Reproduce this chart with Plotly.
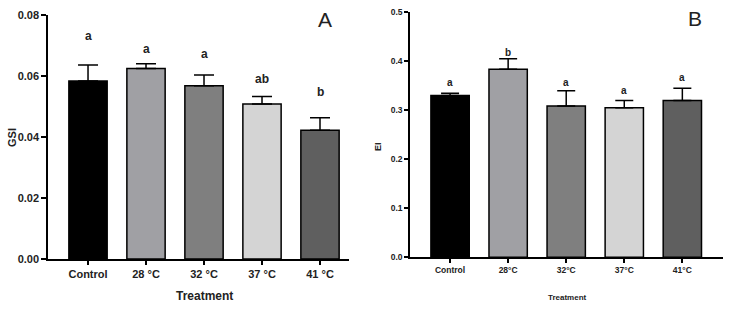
import plotly.graph_objects as go

# ---- data ----
cats_a = ["Control", "28 °C", "32 °C", "37 °C", "41 °C"]
cats_b = ["Control", "28°C", "32°C", "37°C", "41°C"]
colors = ["#000000", "#a0a0a4", "#7f7f7f", "#d4d4d4", "#5f5f5f"]

gsi_mean = [0.0584, 0.0625, 0.0568, 0.0508, 0.0422]
gsi_err = [0.0052, 0.0015, 0.0035, 0.0025, 0.0041]
gsi_letters = ["a", "a", "a", "ab", "b"]
gsi_letter_y = [0.0731, 0.0690, 0.0672, 0.0589, 0.0548]
gsi_ticks = [0, 0.02, 0.04, 0.06, 0.08]

ei_mean = [0.330, 0.384, 0.309, 0.305, 0.320]
ei_err = [0.005, 0.021, 0.031, 0.015, 0.025]
ei_letters = ["a", "b", "a", "a", "a"]
ei_letter_y = [0.356, 0.418, 0.356, 0.341, 0.366]
ei_ticks = [0, 0.1, 0.2, 0.3, 0.4, 0.5]

W, H = 730, 310
FONT = "Liberation Sans, Arial, sans-serif"

def px(x):
    return x / W

def py(y):
    return 1 - y / H

fig = go.Figure()

fig.add_trace(go.Bar(
    x=list(range(len(cats_a))), y=gsi_mean, width=0.66,
    marker=dict(color=colors, line=dict(color="#000000", width=1.5)),
    error_y=dict(type="data", symmetric=False, array=gsi_err, arrayminus=[0] * 5,
                 color="#000000", thickness=1.5, width=10),
    xaxis="x", yaxis="y", showlegend=False, hoverinfo="skip"))

fig.add_trace(go.Bar(
    x=list(range(len(cats_b))), y=ei_mean, width=0.66,
    marker=dict(color=colors, line=dict(color="#000000", width=1.5)),
    error_y=dict(type="data", symmetric=False, array=ei_err, arrayminus=[0] * 5,
                 color="#000000", thickness=1.5, width=9),
    xaxis="x2", yaxis="y2", showlegend=False, hoverinfo="skip"))

axis_common = dict(showline=True, linecolor="#000000", linewidth=1.5, ticks="outside",
                   tickcolor="#000000", tickwidth=1.5, showgrid=False, zeroline=False,
                   automargin=False, tickmode="array")

fig.update_layout(
    width=W, height=H, margin=dict(l=0, r=0, t=0, b=0, autoexpand=False),
    paper_bgcolor="white", plot_bgcolor="white",
    xaxis=dict(domain=[px(48), px(349)], range=[-0.69, 4.5],
               tickvals=list(range(5)), ticktext=[f"<b>{c}</b>" for c in cats_a], ticklen=4,
               tickfont=dict(family=FONT, size=11, color="#222"), anchor="y", **axis_common),
    yaxis=dict(domain=[py(259), py(15)], range=[0, 0.08], tickvals=gsi_ticks,
               ticktext=[f"<b>{v:.2f}</b>" for v in gsi_ticks], ticklen=5,
               tickfont=dict(family=FONT, size=11, color="#222"), anchor="x", **axis_common),
    xaxis2=dict(domain=[px(410), px(723)], range=[-0.69, 4.7],
                tickvals=list(range(5)), ticktext=[f"<b>{c}</b>" for c in cats_b], ticklen=4,
                tickfont=dict(family=FONT, size=8.5, color="#222"), anchor="y2", **axis_common),
    yaxis2=dict(domain=[py(257.3), py(12.3)], range=[0, 0.5], tickvals=ei_ticks,
                ticktext=[f"<b>{v:.1f}</b>" for v in ei_ticks], ticklen=4,
                tickfont=dict(family=FONT, size=8.5, color="#222"), anchor="x2", **axis_common),
)

ann = []
for i, (t, y) in enumerate(zip(gsi_letters, gsi_letter_y)):
    ann.append(dict(x=i, y=y, xref="x", yref="y", text=f"<b>{t}</b>", showarrow=False,
                    xanchor="center", yanchor="middle",
                    font=dict(family=FONT, size=12, color="#222")))
for i, (t, y) in enumerate(zip(ei_letters, ei_letter_y)):
    ann.append(dict(x=i, y=y, xref="x2", yref="y2", text=f"<b>{t}</b>", showarrow=False,
                    xanchor="center", yanchor="middle",
                    font=dict(family=FONT, size=10, color="#222")))

def pann(x, y, text, size, angle=0):
    return dict(x=px(x), y=py(y), xref="paper", yref="paper", text=text, showarrow=False,
                xanchor="center", yanchor="middle", textangle=angle,
                font=dict(family=FONT, size=size, color="#222"))

ann += [
    pann(325, 20, "A", 21),
    pann(695, 18, "B", 21),
    pann(204, 296, "<b>Treatment</b>", 12),
    pann(567, 297, "<b>Treatment</b>", 8),
    pann(12, 137, "<b>GSI</b>", 11, -90),
    pann(378, 147, "<b>EI</b>", 9, -90),
]
fig.update_layout(annotations=ann)

fig.write_html("out.html", config={"displayModeBar": False},
               post_script="document.body.style.margin='0';")
